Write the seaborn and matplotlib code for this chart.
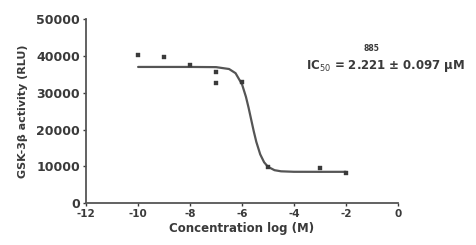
import numpy as np
import pandas as pd
import matplotlib
matplotlib.use("Agg")
import matplotlib.pyplot as plt
import seaborn as sns

# measured points (log M, RLU)
log_conc = [-10, -9, -8, -7, -7, -6, -5, -3, -2]
activity = [40200, 39700, 37500, 35600, 32600, 32900, 9800, 9500, 8200]

# fitted curve
curve_x = [-10, -9, -8, -7, -6.5, -6.25, -6.0, -5.85, -5.75, -5.65, -5.55,
           -5.45, -5.3, -5.15, -5.0, -4.75, -4.5, -4.0, -3.0, -2.0]
curve_y = [37000, 37000, 37000, 36950, 36440, 35310, 32260, 28880, 25970,
           22750, 19530, 16620, 13240, 11090, 9860, 8945, 8640, 8510, 8500, 8500]

x_ticks = [-12, -10, -8, -6, -4, -2, 0]
y_ticks = [0, 10000, 20000, 30000, 40000, 50000]

pts = pd.DataFrame({"x": log_conc, "y": activity})
fit = pd.DataFrame({"x": curve_x, "y": curve_y})

sns.set_style("ticks")
plt.rcParams["font.family"] = ["DejaVu Sans"]
INK = "#3a3a3a"

fig = plt.figure(figsize=(4.76, 2.45), dpi=100)
ax = fig.add_axes([0.181, 0.171, 0.655, 0.751])

sns.lineplot(data=fit, x="x", y="y", ax=ax, color="#555555", lw=1.6)
sns.scatterplot(data=pts, x="x", y="y", ax=ax, color=INK, marker="s",
                s=12, edgecolor=INK, zorder=3)

ax.set_xlim(-12, 0)
ax.set_ylim(0, 50000)
ax.set_xticks(x_ticks)
ax.set_yticks(y_ticks)
ax.set_xticklabels([str(t) for t in x_ticks], fontsize=7.5, fontweight="bold", color=INK)
ax.set_yticklabels([str(t) for t in y_ticks], fontsize=9, fontweight="bold", color=INK)
ax.tick_params(length=2.5, width=1, colors=INK, pad=2)
for s in ["left", "bottom"]:
    ax.spines[s].set_linewidth(1.3)
    ax.spines[s].set_color("#555555")
sns.despine(ax=ax)

ax.set_xlabel("Concentration log (M)", fontsize=8.5, fontweight="bold", color=INK, labelpad=2)
ax.set_ylabel("GSK-3\u03b2 activity (RLU)", fontsize=8, fontweight="bold", color=INK, labelpad=6)

fig.text(0.78, 0.79, "885", fontsize=5.5, fontweight="bold", color=INK, ha="center")
fig.text(0.81, 0.72, "IC$_{50}$ = 2.221 \u00b1 0.097 \u03bcM", fontsize=8.5,
         fontweight="bold", color=INK, ha="center")

fig.savefig("out.png", dpi=100)
